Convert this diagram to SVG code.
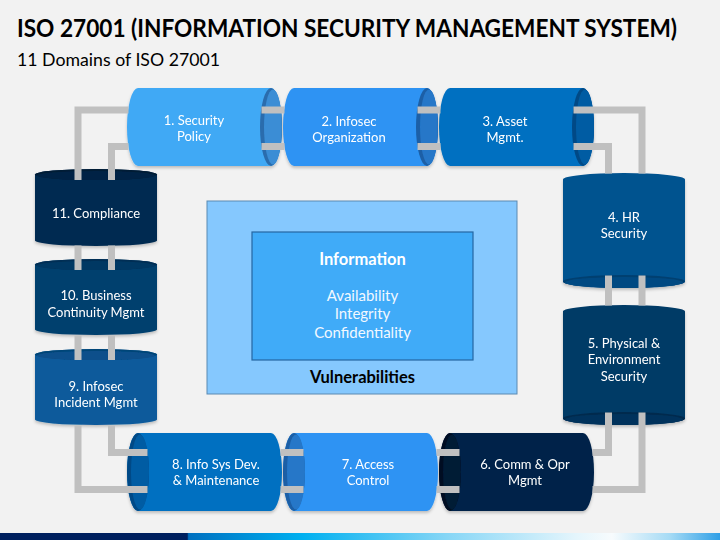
<svg xmlns="http://www.w3.org/2000/svg" width="720" height="540" viewBox="0 0 720 540">
<defs>
<style>
.lbl{font-family:Lato,"Liberation Sans",sans-serif;font-size:13px;fill:#ffffff;text-anchor:middle}
.rail{fill:none;stroke:#c0c0c0;stroke-width:7;stroke-linejoin:miter;stroke-linecap:butt}
.cyl{filter:url(#sh)}
.ctr{font-family:Lato,"Liberation Sans",sans-serif;text-anchor:middle}
</style>
<filter id="sh" x="-10%" y="-10%" width="120%" height="130%">
<feDropShadow dx="0" dy="2" stdDeviation="1.5" flood-color="#000" flood-opacity="0.22"/>
</filter>
<linearGradient id="strip" x1="0" y1="0" x2="720" y2="0" gradientUnits="userSpaceOnUse">
<stop offset="0" stop-color="#00205f"/>
<stop offset="0.26" stop-color="#00205f"/>
<stop offset="0.262" stop-color="#0070c0"/>
<stop offset="0.42" stop-color="#00b0f0"/>
<stop offset="0.62" stop-color="#86d6f6"/>
<stop offset="0.8" stop-color="#e4f5fc"/>
<stop offset="0.85" stop-color="#f7fbfd"/>
<stop offset="0.93" stop-color="#a6dbf5"/>
<stop offset="1" stop-color="#2f9fe6"/>
</linearGradient>
</defs>
<rect x="0" y="0" width="720" height="540" fill="#f2f2f2"/>
<text x="17" y="37" font-family="Lato,'Liberation Sans',sans-serif" font-weight="bold" font-size="24" fill="#000" textLength="660" lengthAdjust="spacingAndGlyphs">ISO 27001 (INFORMATION SECURITY MANAGEMENT SYSTEM)</text>
<text x="17" y="66" font-family="Lato,'Liberation Sans',sans-serif" font-size="17" fill="#000" textLength="203" lengthAdjust="spacingAndGlyphs">11 Domains of ISO 27001</text>

<g id="center">
<rect x="207" y="201" width="310" height="193" fill="#85c8fe" stroke="#5b8ab2" stroke-width="1"/>
<rect x="252" y="232" width="221" height="128" fill="#40abf8" stroke="#2567a2" stroke-width="1.2"/>
<text class="ctr" x="362.5" y="265" font-size="16.5" font-weight="bold" fill="#fff">Information</text>
<text class="ctr" x="362.5" y="301" font-size="15" fill="#f2f8ff">Availability</text>
<text class="ctr" x="362.5" y="319" font-size="15" fill="#f2f8ff">Integrity</text>
<text class="ctr" x="362.5" y="338" font-size="15" fill="#f2f8ff">Confidentiality</text>
<text class="ctr" x="362.5" y="383" font-size="16.5" font-weight="bold" fill="#000">Vulnerabilities</text>
</g>

<g id="n1" class="cyl">
<path d="M138,88 H271 A11 39 0 0 1 271,166 H138 A11 39 0 0 1 138,88 Z" fill="#40a9f5"/>
<ellipse cx="271" cy="127" rx="11" ry="39" fill="#2a6cad"/>
<ellipse cx="273" cy="127" rx="9" ry="37.5" fill="#3a8dd5"/>
<text class="lbl" x="194" y="125">1. Security</text>
<text class="lbl" x="194" y="141">Policy</text>
</g>
<g id="n2" class="cyl">
<path d="M294,88 H427 A11 39 0 0 1 427,166 H294 A11 39 0 0 1 294,88 Z" fill="#2d93f3"/>
<ellipse cx="427" cy="127" rx="11" ry="39" fill="#1d5fa6"/>
<ellipse cx="429" cy="127" rx="9" ry="37.5" fill="#2677c8"/>
<text class="lbl" x="349" y="126">2. Infosec</text>
<text class="lbl" x="349" y="142">Organization</text>
</g>
<g id="n3" class="cyl">
<path d="M450,88 H583 A11 39 0 0 1 583,166 H450 A11 39 0 0 1 450,88 Z" fill="#0070c1"/>
<ellipse cx="583" cy="127" rx="11" ry="39" fill="#004a86"/>
<ellipse cx="585" cy="127" rx="9" ry="37.5" fill="#005ca3"/>
<text class="lbl" x="505" y="126">3. Asset</text>
<text class="lbl" x="505" y="142">Mgmt.</text>
</g>
<g id="n4" class="cyl">
<path d="M563,179.5 V281.5 A61 6.5 0 0 0 685,281.5 V179.5 A61 6.5 0 0 0 563,179.5 Z" fill="#03528f"/>
<ellipse cx="624" cy="281.5" rx="61" ry="6.5" fill="#023f70"/>
<ellipse cx="624" cy="282.5" rx="59" ry="5.5" fill="#034a82"/>
<text class="lbl" x="624" y="222">4. HR</text>
<text class="lbl" x="624" y="238">Security</text>
</g>
<g id="n5" class="cyl">
<path d="M563,311.5 V418.5 A61 6.5 0 0 0 685,418.5 V311.5 A61 6.5 0 0 0 563,311.5 Z" fill="#023a66"/>
<ellipse cx="624" cy="418.5" rx="61" ry="6.5" fill="#012b4e"/>
<ellipse cx="624" cy="419.5" rx="59" ry="5.5" fill="#02335c"/>
<text class="lbl" x="624" y="348">5. Physical &amp;</text>
<text class="lbl" x="624" y="364">Environment</text>
<text class="lbl" x="624" y="381">Security</text>
</g>
<g id="n6" class="cyl">
<path d="M450,433 H583 A11 39 0 0 1 583,511 H450 A11 39 0 0 1 450,433 Z" fill="#012449"/>
<ellipse cx="450" cy="472" rx="11" ry="39" fill="#000f22"/>
<ellipse cx="452" cy="472" rx="9" ry="37.5" fill="#011a36"/>
<text class="lbl" x="525" y="469">6. Comm &amp; Opr</text>
<text class="lbl" x="525" y="485">Mgmt</text>
</g>
<g id="n7" class="cyl">
<path d="M294,433 H427 A11 39 0 0 1 427,511 H294 A11 39 0 0 1 294,433 Z" fill="#2d93f3"/>
<ellipse cx="294" cy="472" rx="11" ry="39" fill="#1d5fa6"/>
<ellipse cx="296" cy="472" rx="9" ry="37.5" fill="#2677c8"/>
<text class="lbl" x="368" y="469">7. Access</text>
<text class="lbl" x="368" y="485">Control</text>
</g>
<g id="n8" class="cyl">
<path d="M138,433 H271 A11 39 0 0 1 271,511 H138 A11 39 0 0 1 138,433 Z" fill="#0070c1"/>
<ellipse cx="138" cy="472" rx="11" ry="39" fill="#004a86"/>
<ellipse cx="140" cy="472" rx="9" ry="37.5" fill="#005ca3"/>
<text class="lbl" x="216" y="469">8. Info Sys Dev.</text>
<text class="lbl" x="216" y="485">&amp; Maintenance</text>
</g>
<g id="n9" class="cyl">
<path d="M35,354.5 V419.5 A61 5.5 0 0 0 157,419.5 V354.5 A61 5.5 0 0 0 35,354.5 Z" fill="#0a5a9b"/>
<ellipse cx="96" cy="354.5" rx="61" ry="5.5" fill="#064577"/>
<ellipse cx="96" cy="355.5" rx="59" ry="4.5" fill="#08508b"/>
<text class="lbl" x="96" y="391">9. Infosec</text>
<text class="lbl" x="96" y="407">Incident Mgmt</text>
</g>
<g id="n10" class="cyl">
<path d="M35,264.5 V329.5 A61 5.5 0 0 0 157,329.5 V264.5 A61 5.5 0 0 0 35,264.5 Z" fill="#033f6e"/>
<ellipse cx="96" cy="264.5" rx="61" ry="5.5" fill="#022f54"/>
<ellipse cx="96" cy="265.5" rx="59" ry="4.5" fill="#033863"/>
<text class="lbl" x="96" y="300">10. Business</text>
<text class="lbl" x="96" y="317">Continuity Mgmt</text>
</g>
<g id="n11" class="cyl">
<path d="M35,174.5 V240.5 A61 5.5 0 0 0 157,240.5 V174.5 A61 5.5 0 0 0 35,174.5 Z" fill="#022b51"/>
<ellipse cx="96" cy="174.5" rx="61" ry="5.5" fill="#011b35"/>
<ellipse cx="96" cy="175.5" rx="59" ry="4.5" fill="#022444"/>
<text class="lbl" x="96" y="218">11. Compliance</text>
</g>

<g id="connectors">
<path class="rail" d="M261.5,110 H284.5 M261.5,146.5 H284.5"/>
<path class="rail" d="M417.5,110 H440.5 M417.5,146.5 H440.5"/>
<path class="rail" d="M573.5,110 H642 V173.5 M573.5,146.5 H608.5 V173.5"/>
<path class="rail" d="M608.5,275.5 V305.5 M642,275.5 V305.5"/>
<path class="rail" d="M608.5,412.5 V452.5 H592.5 M642,412.5 V489.5 H592.5"/>
<path class="rail" d="M436.5,452.5 H459.5 M436.5,489.5 H459.5"/>
<path class="rail" d="M280.5,452.5 H303.5 M280.5,489.5 H303.5"/>
<path class="rail" d="M147.5,452.5 H111.5 V425.5 M147.5,489.5 H78 V425.5"/>
<path class="rail" d="M78,335.5 V360 M111.5,335.5 V360"/>
<path class="rail" d="M78,245.5 V270 M111.5,245.5 V270"/>
<path class="rail" d="M78,180 V110 H128.5 M111.5,180 V146.5 H128.5"/>
</g>

<rect x="0" y="533" width="720" height="7" fill="url(#strip)"/>
</svg>
